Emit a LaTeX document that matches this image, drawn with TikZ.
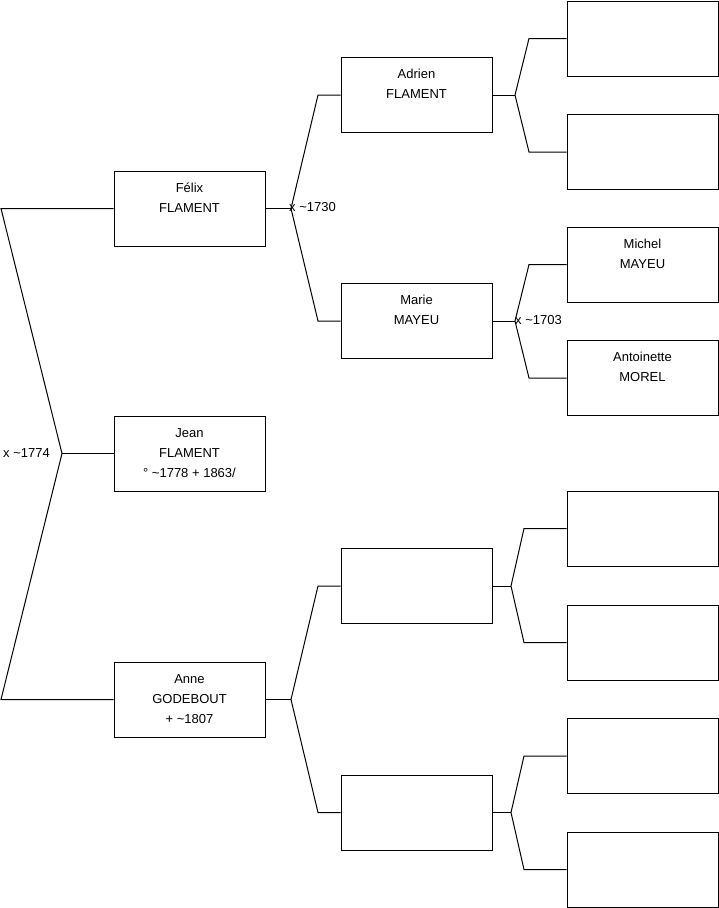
\documentclass[tikz,border=0pt]{standalone}
\usepackage{fontspec}
\setmainfont{Liberation Sans}
\begin{document}
\begin{tikzpicture}[x=1pt,y=-1pt,
  personbox/.style={draw=black,line width=1pt,rectangle,minimum width=151pt,minimum height=75pt,inner sep=0pt},
  nametxt/.style={anchor=north,inner sep=0pt,align=center,font=\fontsize{13}{20}\selectfont},
  marr/.style={anchor=west,inner sep=0pt,font=\fontsize{13}{16}\selectfont},
  conn/.style={draw=black,line width=1pt,line join=miter}]
\useasboundingbox (0,0) rectangle (719,908);
% generation 1
\node[personbox] (felix) at (189.5,208.5) {};
\node[personbox] (jean) at (189.5,453.5) {};
\node[personbox] (anne) at (189.5,699.5) {};
% generation 2
\node[personbox] (adrien) at (416.5,95) {};
\node[personbox] (marie) at (416.5,321) {};
\node[personbox] (e1) at (416.5,586) {};
\node[personbox] (e2) at (416.5,812.5) {};
% generation 3
\node[personbox] (r1) at (642.5,38.5) {};
\node[personbox] (r2) at (642.5,152) {};
\node[personbox] (r3) at (642.5,264.5) {};
\node[personbox] (r4) at (642.5,378) {};
\node[personbox] (r5) at (642.5,528.5) {};
\node[personbox] (r6) at (642.5,642.5) {};
\node[personbox] (r7) at (642.5,756) {};
\node[personbox] (r8) at (642.5,869.5) {};
% texts
\node[nametxt] (tfelix) at ([yshift=-12pt]felix.north) {Félix\\FLAMENT};
\node[nametxt] (tjean) at ([yshift=-13pt]jean.north) {Jean\\FLAMENT\\° \textasciitilde1778 + 1863/};
\node[nametxt] (tanne) at ([yshift=-12.5pt]anne.north) {Anne\\GODEBOUT\\+ \textasciitilde1807};
\node[nametxt] (tadrien) at ([yshift=-12pt]adrien.north) {Adrien\\FLAMENT};
\node[nametxt] (tmarie) at ([yshift=-12pt]marie.north) {Marie\\MAYEU};
\node[nametxt] (tr3) at ([yshift=-12pt]r3.north) {Michel\\MAYEU};
\node[nametxt] (tr4) at ([yshift=-12pt]r4.north) {Antoinette\\MOREL};
% junctions
\coordinate (j0) at (62,453.5);
\coordinate (c0a) at (1,208.5);
\coordinate (c0b) at (1,699.5);
\coordinate (j1) at (291,208.5);
\coordinate (c1a) at (318,95);
\coordinate (c1b) at (318,321);
\coordinate (j2) at (515,95);
\coordinate (c2a) at (529,38.5);
\coordinate (c2b) at (529,152);
\coordinate (j3) at (515,321);
\coordinate (c3a) at (529,264.5);
\coordinate (c3b) at (529,378);
\coordinate (j4) at (291,699.5);
\coordinate (c4a) at (318,586);
\coordinate (c4b) at (318,812.5);
\coordinate (j5) at (511,586);
\coordinate (c5a) at (524,528.5);
\coordinate (c5b) at (524,642.5);
\coordinate (j6) at (511,812.5);
\coordinate (c6a) at (524,756);
\coordinate (c6b) at (524,869.5);
% connectors
\draw[conn] (felix.west) -- (c0a) -- (j0) -- (c0b) -- (anne.west);
\draw[conn] (j0) -- (jean.west);
\draw[conn] (felix.east) -- (j1);
\draw[conn] (adrien.west) -- (c1a) -- (j1) -- (c1b) -- (marie.west);
\draw[conn] (adrien.east) -- (j2);
\draw[conn] (r1.west) -- (c2a) -- (j2) -- (c2b) -- (r2.west);
\draw[conn] (marie.east) -- (j3);
\draw[conn] (r3.west) -- (c3a) -- (j3) -- (c3b) -- (r4.west);
\draw[conn] (anne.east) -- (j4);
\draw[conn] (e1.west) -- (c4a) -- (j4) -- (c4b) -- (e2.west);
\draw[conn] (e1.east) -- (j5);
\draw[conn] (r5.west) -- (c5a) -- (j5) -- (c5b) -- (r6.west);
\draw[conn] (e2.east) -- (j6);
\draw[conn] (r7.west) -- (c6a) -- (j6) -- (c6b) -- (r8.west);
% marriage labels
\node[marr] (m1774) at (3,453) {x \textasciitilde1774};
\node[marr] (m1730) at (289,207.5) {x \textasciitilde1730};
\node[marr] (m1703) at (515,320.5) {x \textasciitilde1703};
\end{tikzpicture}
\end{document}
